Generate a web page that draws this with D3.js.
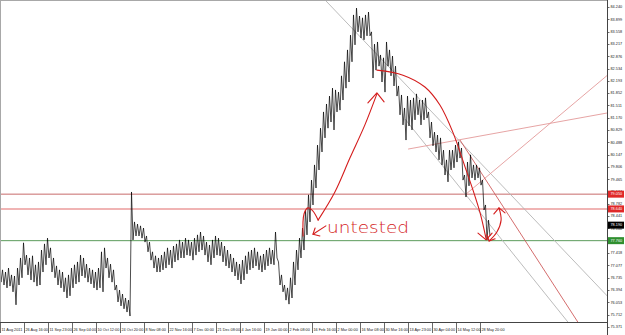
<!DOCTYPE html>
<html>
<head>
<meta charset="utf-8">
<script src="https://d3js.org/d3.v7.min.js"></script>
<style>
body { margin: 0; background: #fff; }
svg { display: block; font-family: "Liberation Sans", Arial, sans-serif; }
.tick-text { font-size: 3.8px; fill: #222; }
.box-text { font-size: 3.8px; fill: #fff; }
</style>
</head>
<body>
<script>
// time labels, one every 8 samples
var timeLabels = ["11 Aug 2011", "26 Aug 16:00", "11 Sep 23:00", "26 Sep 04:00", "10 Oct 12:00",
    "24 Oct 20:00", "8 Nov 08:00", "22 Nov 16:00", "7 Dec 00:00", "21 Dec 08:00", "4 Jan 16:00",
    "19 Jan 00:00", "2 Feb 08:00", "16 Feb 16:00", "2 Mar 00:00", "16 Mar 08:00", "30 Mar 16:00",
    "13 Apr 23:00", "30 Apr 04:00", "14 May 12:00", "28 May 20:00"];

var priceTicks = [84.240, 83.899, 83.558, 83.217, 82.876, 82.534, 82.193, 81.852, 81.511, 81.170,
    80.829, 80.488, 80.147, 79.806, 79.465, 79.124, 78.782, 78.441, 78.100, 77.759, 77.418,
    77.077, 76.735, 76.394, 76.053, 75.712, 75.371];

// USDJPY highs / lows, sampled
var highs = [77.00, 76.95, 76.89, 77.00, 76.81, 76.78, 77.00, 77.28, 77.70, 77.36,
    77.28, 77.34, 77.09, 77.17, 77.50, 77.67, 77.83, 77.56, 77.28, 77.06,
    76.95, 76.89, 76.73, 76.81, 77.00, 77.09, 77.17, 77.36, 77.28, 77.11,
    77.00, 76.95, 76.89, 77.00, 77.45, 77.56, 77.28, 77.11, 76.95, 76.53,
    76.39, 76.28, 76.17, 76.11, 79.11, 78.28, 78.22, 78.17, 78.11, 77.89,
    77.72, 77.45, 77.34, 77.28, 77.36, 77.45, 77.56, 77.50, 77.61, 77.67,
    77.78, 77.72, 77.83, 77.78, 77.72, 77.83, 77.92, 78.00, 77.89, 77.72,
    77.64, 77.78, 77.89, 77.83, 77.72, 77.61, 77.50, 77.39, 77.28, 77.17,
    77.11, 77.22, 77.34, 77.45, 77.50, 77.56, 77.45, 77.34, 77.39, 77.50,
    77.56, 77.50, 78.00, 77.17, 76.81, 76.53, 76.45, 76.73, 77.17, 77.50,
    77.83, 78.11, 78.61, 79.03, 79.44, 79.86, 80.41, 80.88, 81.33, 81.55,
    81.77, 81.99, 81.94, 81.88, 82.33, 82.72, 83.05, 83.46, 84.02, 84.21,
    83.99, 83.94, 84.02, 84.10, 83.55, 83.21, 83.27, 82.91, 82.83, 83.27,
    83.05, 82.88, 82.60, 82.05, 81.80, 81.44, 81.77, 81.66, 81.72, 81.83,
    81.66, 81.66, 81.72, 81.33, 81.05, 80.77, 80.69, 80.61, 80.27, 80.00,
    80.27, 80.27, 80.41, 80.50, 80.33, 79.58, 79.94, 80.14, 79.86, 79.86,
    79.78, 79.44, 78.75, 78.33];

var lows = [76.61, 76.53, 76.45, 76.50, 76.34, 75.98, 76.53, 76.73, 77.09, 76.81,
    76.67, 76.61, 76.50, 76.53, 76.89, 77.09, 77.28, 76.89, 76.73, 76.53,
    76.45, 76.34, 76.17, 76.23, 76.45, 76.56, 76.61, 76.78, 76.73, 76.61,
    76.56, 76.45, 76.39, 76.45, 76.34, 77.00, 76.73, 76.61, 76.39, 76.06,
    75.95, 75.87, 75.78, 75.67, 77.78, 77.89, 77.89, 77.83, 77.72, 77.45,
    77.22, 77.00, 76.89, 76.89, 76.95, 77.00, 77.09, 77.00, 77.17, 77.22,
    77.28, 77.28, 77.36, 77.34, 77.22, 77.36, 77.45, 77.50, 77.36, 77.17,
    77.09, 77.28, 77.36, 77.34, 77.17, 77.06, 77.00, 76.89, 76.78, 76.67,
    76.56, 76.67, 76.84, 76.95, 77.00, 77.06, 76.95, 76.89, 76.95, 77.06,
    77.11, 77.09, 77.28, 76.53, 76.34, 76.11, 76.00, 76.17, 76.53, 76.95,
    77.28, 77.50, 77.92, 78.28, 78.75, 79.22, 79.72, 80.22, 80.61, 80.88,
    81.05, 80.83, 81.33, 81.38, 81.66, 81.99, 82.16, 82.72, 83.19, 83.55,
    83.38, 83.33, 83.44, 83.44, 82.27, 82.49, 82.60, 82.16, 81.88, 82.60,
    82.33, 82.05, 81.77, 81.25, 80.97, 80.55, 80.94, 80.83, 81.11, 81.25,
    80.97, 81.11, 81.16, 80.61, 80.39, 80.22, 80.00, 79.86, 79.58, 79.39,
    79.72, 79.78, 79.94, 80.05, 79.44, 78.97, 79.28, 79.50, 79.44, 79.50,
    79.30, 78.61, 77.78, 77.89];

// horizontal levels: resistance, resistance, support
var levelPrices = [79.05, 78.64, 77.76];
var bidPrice = 78.19;

// trend lines as [sample, price] pairs
var grayLines = [
    [[109.5, 84.35], [191.2, 77.22]],
    [[135.2, 81.13], [189.5, 75.50]]
];
var redLine = [[153.5, 80.55], [192.8, 75.50]];
var pinkLines = [
    [[136.2, 80.30], [202.5, 81.30]],
    [[155.2, 79.03], [192.8, 81.66]]
];

// hand drawn pen marks
var bigArc = [[125.8, 82.49], [134.5, 82.35], [141.8, 82.02], [146.8, 81.52], [151.2, 80.75],
    [155.2, 79.80], [157.8, 79.17], [160.2, 78.53], [162.2, 77.81]];
var bigArcHead = [[159.5, 77.97], [162.2, 77.78], [164.2, 77.97]];
var bounce = [[163.2, 77.75], [165.8, 78.00], [167.2, 78.33], [166.5, 78.67]];
var bounceTop = [[164.8, 78.50], [166.5, 78.67], [168.5, 78.53]];
var bounceBottom = [[162.5, 77.92], [163.2, 77.75], [165.2, 77.81]];
var bracket = [[101.2, 77.89], [101.5, 78.50], [102.8, 78.67], [104.5, 78.58], [106.2, 78.33]];
var rallyArrow = [[106.2, 78.33], [111.8, 79.11], [116.8, 80.05], [121.8, 80.97], [125.8, 81.83]];
var rallyHead = [[122.8, 81.58], [125.8, 81.86], [128.2, 81.61]];
var pointer = [[108.8, 78.17], [104.5, 77.94]];
var pointerHead = [[105.2, 78.11], [104.5, 77.94], [106.8, 77.89]];
var noteAt = [109.2, 77.97];

var W = 625, H = 335;
var plot = { left: 1, right: 607, top: 1, bottom: 322 };

var svg = d3.select("body").append("svg")
    .attr("width", W)
    .attr("height", H);

var x = d3.scaleLinear().domain([0, 8]).range([-0.5, 23.5]);
var y = d3.scaleLinear()
    .domain([priceTicks[0], priceTicks[priceTicks.length - 1]])
    .range([7, 326.8]);

svg.append("clipPath").attr("id", "clip")
    .append("rect")
    .attr("x", plot.left).attr("y", plot.top)
    .attr("width", plot.right - plot.left).attr("height", plot.bottom - plot.top);

// frame
svg.append("rect")
    .attr("x", 0.5).attr("y", 0.5)
    .attr("width", plot.right).attr("height", plot.bottom)
    .attr("fill", "none").attr("stroke", "#a8a8a8");
svg.append("line")
    .attr("x1", plot.right + 0.5).attr("x2", plot.right + 0.5)
    .attr("y1", 0).attr("y2", H)
    .attr("stroke", "#444");
svg.append("line")
    .attr("x1", 0).attr("x2", plot.right)
    .attr("y1", plot.bottom + 0.5).attr("y2", plot.bottom + 0.5)
    .attr("stroke", "#444");

var g = svg.append("g").attr("clip-path", "url(#clip)");

// horizontal levels
var levelStroke = ["#c86a6a", "#f0b4b4", "#5c9c5c"];
var levelWidth = [1, 2, 1];
g.selectAll(".level")
    .data(levelPrices)
    .enter().append("line")
    .attr("class", "level")
    .attr("x1", 0).attr("x2", plot.right)
    .attr("y1", function(d) { return y(d); })
    .attr("y2", function(d) { return y(d); })
    .attr("stroke", function(d, i) { return levelStroke[i]; })
    .attr("stroke-width", function(d, i) { return levelWidth[i]; });

// straight line through two points, stretched across the plot
function stretch(seg, back) {
    var x1 = x(seg[0][0]), y1 = y(seg[0][1]), x2 = x(seg[1][0]), y2 = y(seg[1][1]);
    var k = (y2 - y1) / (x2 - x1);
    var xs = back ? x1 - 200 : x1;
    var xe = 700;
    return [[xs, y1 + k * (xs - x1)], [xe, y1 + k * (xe - x1)]];
}
var raw = d3.line();

grayLines.forEach(function(seg, i) {
    g.append("path")
        .attr("d", raw(stretch(seg, i === 0)))
        .attr("fill", "none").attr("stroke", "#b4b4b4").attr("stroke-width", 0.9);
});
pinkLines.forEach(function(seg) {
    g.append("path")
        .attr("d", raw(stretch(seg, false)))
        .attr("fill", "none").attr("stroke", "#e39a9a").attr("stroke-width", 0.9);
});
g.append("path")
    .attr("d", raw(stretch(redLine, false)))
    .attr("fill", "none").attr("stroke", "#cf5c5c").attr("stroke-width", 0.9);

// price bars as a jagged high/low trace
var pts = [];
highs.forEach(function(h, i) {
    pts.push([x(i), y(h)]);
    pts.push([x(i) + 1.5, y(lows[i])]);
});
g.append("path")
    .attr("d", raw(pts))
    .attr("fill", "none")
    .attr("stroke", "#000")
    .attr("stroke-width", 0.7);

// pen marks
var pen = d3.line()
    .x(function(d) { return x(d[0]); })
    .y(function(d) { return y(d[1]); })
    .curve(d3.curveCatmullRom);
var penStraight = d3.line()
    .x(function(d) { return x(d[0]); })
    .y(function(d) { return y(d[1]); });

[bigArc, bounce, bracket, rallyArrow].forEach(function(p) {
    g.append("path")
        .attr("d", pen(p))
        .attr("fill", "none").attr("stroke", "#d41c1c").attr("stroke-width", 1.1)
        .attr("stroke-linecap", "round");
});
[bigArcHead, bounceTop, bounceBottom, rallyHead, pointer, pointerHead].forEach(function(p) {
    g.append("path")
        .attr("d", penStraight(p))
        .attr("fill", "none").attr("stroke", "#d41c1c").attr("stroke-width", 1.1)
        .attr("stroke-linecap", "round").attr("stroke-linejoin", "round");
});

svg.append("text")
    .attr("x", x(noteAt[0]))
    .attr("y", y(noteAt[1]))
    .attr("textLength", 82)
    .attr("lengthAdjust", "spacingAndGlyphs")
    .style("font-family", "'DejaVu Sans', sans-serif")
    .style("font-weight", 200)
    .style("font-size", "15px")
    .style("fill", "#d41c1c")
    .text("untested");

// price axis
svg.selectAll(".ptick")
    .data(priceTicks)
    .enter().append("line")
    .attr("x1", plot.right).attr("x2", plot.right + 2.5)
    .attr("y1", function(d) { return Math.round(y(d)) + 0.5; })
    .attr("y2", function(d) { return Math.round(y(d)) + 0.5; })
    .attr("stroke", "#444").attr("stroke-width", 0.8);
svg.selectAll(".plabel")
    .data(priceTicks)
    .enter().append("text")
    .attr("class", "tick-text")
    .attr("x", plot.right + 3.5)
    .attr("y", function(d) { return y(d); })
    .attr("dy", "0.35em")
    .text(function(d) { return d.toFixed(3); });

// level and bid boxes on the axis
var boxes = levelPrices.concat([bidPrice]);
var boxFill = ["#e02828", "#e02828", "#2f8f2f", "#000"];
svg.selectAll(".pbox")
    .data(boxes)
    .enter().append("rect")
    .attr("x", plot.right + 1)
    .attr("y", function(d) { return y(d) - 3.5; })
    .attr("width", 16).attr("height", 7)
    .attr("fill", function(d, i) { return boxFill[i]; });
svg.selectAll(".pboxt")
    .data(boxes)
    .enter().append("text")
    .attr("class", "box-text")
    .attr("x", plot.right + 3.5)
    .attr("y", function(d) { return y(d); })
    .attr("dy", "0.35em")
    .text(function(d) { return d.toFixed(3); });

// time axis
svg.selectAll(".ttick")
    .data(timeLabels)
    .enter().append("line")
    .attr("x1", function(d, i) { return Math.round(x(i * 8)) + 0.5; })
    .attr("x2", function(d, i) { return Math.round(x(i * 8)) + 0.5; })
    .attr("y1", plot.bottom).attr("y2", plot.bottom + 11)
    .attr("stroke", "#444").attr("stroke-width", 0.8);
svg.selectAll(".tlabel")
    .data(timeLabels)
    .enter().append("text")
    .attr("class", "tick-text")
    .attr("x", function(d, i) { return Math.max(1.5, x(i * 8) + 2); })
    .attr("y", plot.bottom + 9)
    .text(function(d) { return d; });
</script>
</body>
</html>
